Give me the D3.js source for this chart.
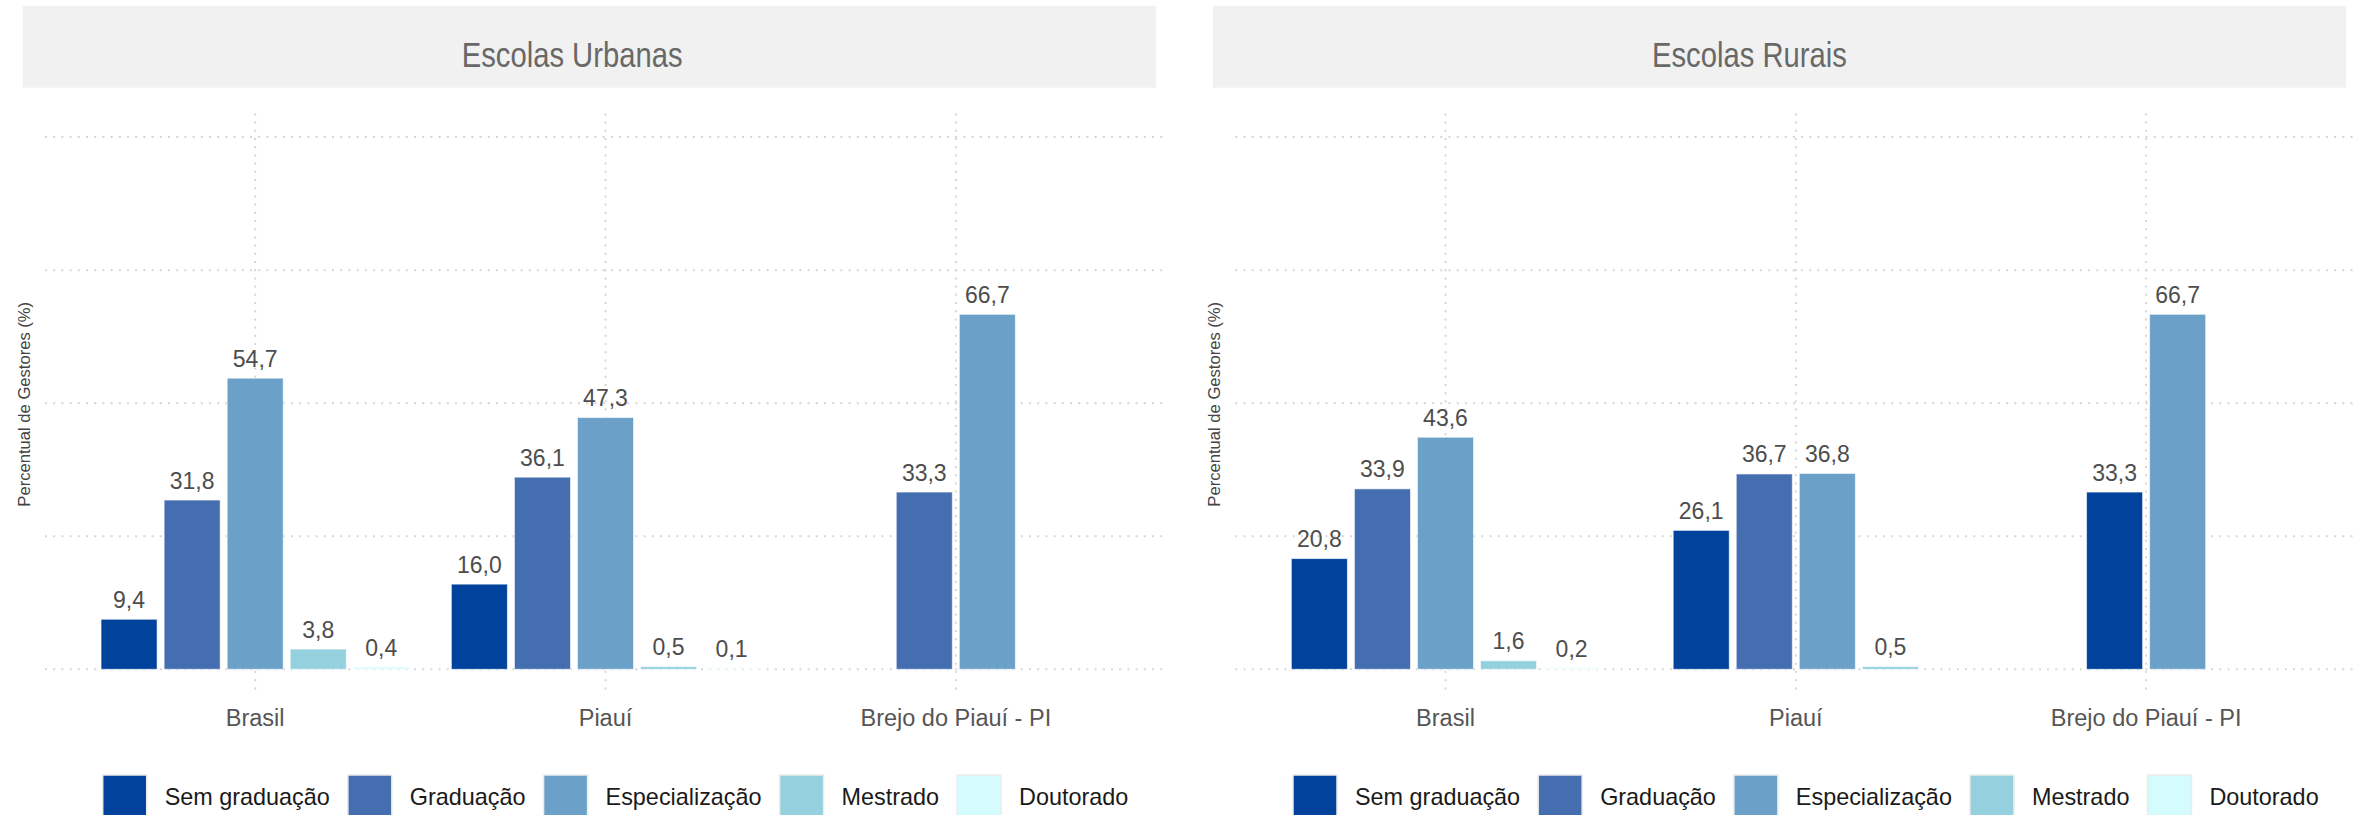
<!DOCTYPE html>
<html>
<head>
<meta charset="utf-8">
<script src="https://cdn.jsdelivr.net/npm/d3@7"></script>
<style>
html, body { margin: 0; padding: 0; background: #ffffff; }
svg { display: block; }
</style>
</head>
<body>
<svg id="chart" width="2369" height="815"></svg>
<script>
// ---------- data ----------
const categories = ["Brasil", "Piauí", "Brejo do Piauí - PI"];
const seriesNames = ["Sem graduação", "Graduação", "Especialização", "Mestrado", "Doutorado"];
const seriesColors = ["#01429c", "#446eb0", "#6ba0c8", "#95d0de", "#d5fcfc"];
const panelTitles = ["Escolas Urbanas", "Escolas Rurais"];
const yTicks = [0, 25, 50, 75, 100];
const yTitle = "Percentual de Gestores (%)";

// Escolas Urbanas (null = no bar)
const urbanSemGraduacao  = [9.4, 16.0, null];
const urbanGraduacao     = [31.8, 36.1, 33.3];
const urbanEspecializacao= [54.7, 47.3, 66.7];
const urbanMestrado      = [3.8, 0.5, null];
const urbanDoutorado     = [0.4, 0.1, null];

// Escolas Rurais
const ruralSemGraduacao  = [20.8, 26.1, 33.3];
const ruralGraduacao     = [33.9, 36.7, null];
const ruralEspecializacao= [43.6, 36.8, 66.7];
const ruralMestrado      = [1.6, 0.5, null];
const ruralDoutorado     = [0.2, null, null];

const panelSeries = [
  [urbanSemGraduacao, urbanGraduacao, urbanEspecializacao, urbanMestrado, urbanDoutorado],
  [ruralSemGraduacao, ruralGraduacao, ruralEspecializacao, ruralMestrado, ruralDoutorado]
];

// ---------- layout ----------
const svg = d3.select("#chart");
const panelOffset = 1190.3;
const plotLeft = 45, plotRight = 1166;
const plotTop = 113.4, plotBottom = 695.1;

const y = d3.scaleLinear().domain([-4.85, 104.45]).range([plotBottom, plotTop]);
const fmt = v => d3.format(".1f")(v).replace(".", ",");

panelTitles.forEach((title, p) => {
  const g = svg.append("g").attr("transform", `translate(${p * panelOffset},0)`);

  const x = d3.scalePoint().domain(categories).range([plotLeft, plotRight]).padding(0.6);
  const step = x.step();
  const slot = step * 0.18;
  const barW = step * 0.16;

  // strip
  g.append("rect").attr("x", 22.7).attr("y", 6).attr("width", 1133.1).attr("height", 81.7)
    .attr("fill", "#f1f1f1");
  const sx = 0.835;
  g.append("text")
    .attr("transform", `translate(461.7,66.5) scale(${sx},1)`)
    .attr("font-family", "'Liberation Sans', Arial, sans-serif")
    .attr("font-size", 35).attr("fill", "#686868")
    .text(title);

  // gridlines
  const grid = g.append("g").attr("stroke", "#d6d6d6").attr("stroke-width", 2)
    .attr("stroke-dasharray", "2,6.2");
  grid.selectAll("line.h").data(yTicks).enter().append("line")
    .attr("x1", plotLeft).attr("x2", plotRight)
    .attr("y1", d => y(d)).attr("y2", d => y(d));
  grid.selectAll("line.v").data(categories).enter().append("line")
    .attr("x1", d => x(d)).attr("x2", d => x(d))
    .attr("y1", plotTop).attr("y2", plotBottom);

  // y title
  g.append("text")
    .attr("transform", `translate(30,${(plotTop + plotBottom) / 2}) rotate(-90)`)
    .attr("text-anchor", "middle")
    .attr("font-family", "'Liberation Sans', Arial, sans-serif")
    .attr("font-size", 16.6).attr("fill", "#444")
    .text(yTitle);

  // bars
  const series = panelSeries[p];
  const bars = [];
  categories.forEach((c, ci) => {
    const present = seriesNames.map((s, si) => ({ si, v: series[si][ci] })).filter(d => d.v !== null);
    const n = present.length;
    present.forEach((d, j) => {
      bars.push({ cat: c, si: d.si, v: d.v, cx: x(c) + (j - (n - 1) / 2) * slot });
    });
  });

  g.selectAll("rect.bar").data(bars).enter().append("rect")
    .attr("class", "bar")
    .attr("x", d => d.cx - barW / 2)
    .attr("width", barW)
    .attr("y", d => y(d.v))
    .attr("height", d => y(0) - y(d.v))
    .attr("fill", d => seriesColors[d.si])
    .attr("stroke", "rgba(255,255,255,0.6)").attr("stroke-width", 1);

  g.selectAll("text.val").data(bars).enter().append("text")
    .attr("x", d => d.cx)
    .attr("y", d => y(d.v) - 11.5)
    .attr("text-anchor", "middle")
    .attr("font-family", "'Liberation Sans', Arial, sans-serif")
    .attr("font-size", 23).attr("fill", "#4d4d4d")
    .text(d => fmt(d.v));

  // x labels
  g.selectAll("text.cat").data(categories).enter().append("text")
    .attr("x", d => x(d)).attr("y", 726)
    .attr("text-anchor", "middle")
    .attr("font-family", "'Liberation Sans', Arial, sans-serif")
    .attr("font-size", 23.5).attr("fill", "#555")
    .text(d => d);

  // legend
  let lx = 102.7;
  seriesNames.forEach((s, si) => {
    g.append("rect").attr("x", lx).attr("y", 775).attr("width", 44).attr("height", 44)
      .attr("fill", seriesColors[si]).attr("stroke", "#ececec").attr("stroke-width", 1.5);
    const t = g.append("text").attr("x", lx + 62).attr("y", 805)
      .attr("font-family", "'Liberation Sans', Arial, sans-serif")
      .attr("font-size", 23.4).attr("fill", "#1a1a1a")
      .text(s);
    lx += 62 + t.node().getComputedTextLength() + 18;
  });
});
</script>
</body>
</html>
